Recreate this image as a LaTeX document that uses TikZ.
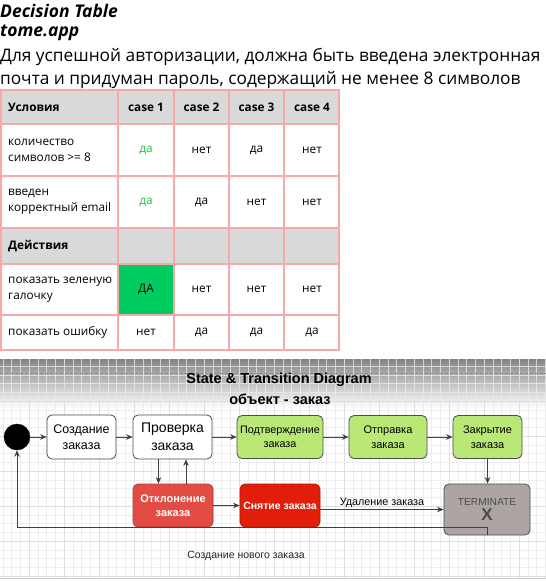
\documentclass[tikz,border=0pt]{standalone}
\usepackage{fontspec}
\setmainfont{Open Sans}
\newfontfamily\dsans{Liberation Sans}
\usetikzlibrary{arrows.meta}
\definecolor{tblline}{RGB}{248,168,168}
\definecolor{hdrgray}{RGB}{217,217,217}
\definecolor{okgreen}{RGB}{0,204,96}
\definecolor{dagreen}{RGB}{40,190,70}
\definecolor{stgreen}{RGB}{186,232,118}
\definecolor{rejred}{RGB}{226,76,68}
\definecolor{canred}{RGB}{226,30,10}
\definecolor{termgray}{RGB}{173,164,164}
\definecolor{gridminor}{RGB}{234,234,234}
\definecolor{gridmajor}{RGB}{220,220,220}
\tikzset{
  celltxt/.style={inner sep=0pt, font=\fontsize{11.8}{16}\selectfont, text=black},
  cellleft/.style={celltxt, anchor=west, align=left},
  cellbold/.style={celltxt, font=\fontsize{11.8}{16}\selectfont\bfseries},
  stbox/.style={draw=black!70, line width=0.8pt, rounded corners=5pt, align=center, inner sep=1pt, font=\dsans},
  conn/.style={draw=black!75, line width=0.9pt, -{Stealth[length=6.5pt,width=5.5pt]}},
}
\begin{document}
\begin{tikzpicture}[x=1pt,y=-1pt]
\useasboundingbox (0,0) rectangle (546,581);
\fill[white] (0,0) rectangle (546,581);

% ---------- heading ----------
\node[anchor=west, inner sep=0pt] (h1) at (0,11) {\fontsize{17.5}{18}\selectfont\bfseries\itshape Decision Table};
\node[anchor=west, inner sep=0pt] (h2) at (0,33) {\fontsize{17.5}{18}\selectfont\bfseries\itshape tome.app};
\node[anchor=west, inner sep=0pt] (h3) at (0,57) {\fontsize{17.3}{18}\selectfont Для успешной авторизации, должна быть введена электронная};
\node[anchor=west, inner sep=0pt] (h4) at (0,80) {\fontsize{17.3}{18}\selectfont почта и придуман пароль, содержащий не менее 8 символов};

% ---------- table ----------
\fill[hdrgray] (0,90) rectangle (340,124);
\fill[hdrgray] (0,228) rectangle (340,264);
\fill[okgreen] (118,264) rectangle (174,315);
\foreach \yy in {90,124,176,228,264,315,350} \draw[tblline, line width=1.6pt] (0,\yy) -- (340,\yy);
\foreach \xx in {0.8,118,174,229,284,339.2} \draw[tblline, line width=1.6pt] (\xx,90) -- (\xx,350);

\node[cellleft, font=\fontsize{11.8}{16}\selectfont\bfseries] (c00) at (8,107) {Условия};
\node[cellbold] (c01) at (146,107) {case 1};
\node[cellbold] (c02) at (201.5,107) {case 2};
\node[cellbold] (c03) at (256.5,107) {case 3};
\node[cellbold] (c04) at (312,107) {case 4};

\node[cellleft] (c10) at (8,150) {количество\\символов >= 8};
\node[celltxt, text=dagreen] (c11) at (146,150) {да};
\node[celltxt] (c12) at (201.5,150) {нет};
\node[celltxt] (c13) at (256.5,150) {да};
\node[celltxt] (c14) at (312,150) {нет};

\node[cellleft] (c20) at (8,202) {введен\\корректный email};
\node[celltxt, text=dagreen] (c21) at (146,202) {да};
\node[celltxt] (c22) at (201.5,202) {да};
\node[celltxt] (c23) at (256.5,202) {нет};
\node[celltxt] (c24) at (312,202) {нет};

\node[cellleft, font=\fontsize{11.8}{16}\selectfont\bfseries] (c30) at (8,246) {Действия};

\node[cellleft] (c40) at (8,289.5) {показать зеленую\\галочку};
\node[celltxt] (c41) at (146,289.5) {ДА};
\node[celltxt] (c42) at (201.5,289.5) {нет};
\node[celltxt] (c43) at (256.5,289.5) {нет};
\node[celltxt] (c44) at (312,289.5) {нет};

\node[cellleft] (c50) at (8,332.5) {показать ошибку};
\node[celltxt] (c51) at (146,332.5) {нет};
\node[celltxt] (c52) at (201.5,332.5) {да};
\node[celltxt] (c53) at (256.5,332.5) {да};
\node[celltxt] (c54) at (312,332.5) {да};

% ---------- diagram background ----------
\shade[top color=black!48, bottom color=white] (0,359) rectangle (546,408);
\foreach \xx in {2.75,11.5,...,546} \draw[gridminor, line width=0.5pt, opacity=0.8] (\xx,359) -- (\xx,578);
\foreach \yy in {366,374.75,...,578} \draw[gridminor, line width=0.5pt, opacity=0.8] (0,\yy) -- (546,\yy);
\foreach \xx in {29,64,...,546} \draw[gridmajor, line width=0.6pt, opacity=0.8] (\xx,359) -- (\xx,578);
\foreach \yy in {401,436,...,578} \draw[gridmajor, line width=0.6pt, opacity=0.8] (0,\yy) -- (546,\yy);
\draw[black!45, dash pattern=on 3pt off 2pt, line width=0.5pt] (0,373) -- (546,373);
\draw[black!20, line width=0.8pt] (0,578) -- (546,578);

% ---------- titles ----------
\node[inner sep=0pt, font=\dsans\bfseries\fontsize{14.5}{16}\selectfont] (title) at (279,380) {State \& Transition Diagram};
\node[inner sep=0pt, font=\dsans\bfseries\fontsize{14.5}{16}\selectfont] (subtitle) at (280,399) {объект - заказ};

% ---------- states ----------
\node[circle, fill=black, draw=black, minimum size=26pt, inner sep=0pt] (start) at (17,437) {};
\node[stbox, fill=white, minimum width=69pt, minimum height=44pt, font=\dsans\fontsize{12.5}{16}\selectfont] (create) at (81.5,437) {Создание\\заказа};
\node[stbox, fill=white, minimum width=79pt, minimum height=44pt, font=\dsans\fontsize{14}{18}\selectfont] (check) at (172.5,437) {Проверка\\заказа};
\node[stbox, fill=stgreen, minimum width=86pt, minimum height=43pt, font=\dsans\fontsize{10.8}{14}\selectfont] (confirm) at (280,437) {Подтверждение\\заказа};
\node[stbox, fill=stgreen, minimum width=78pt, minimum height=43pt, font=\dsans\fontsize{11}{14.5}\selectfont] (ship) at (388,437) {Отправка\\заказа};
\node[stbox, fill=stgreen, minimum width=69pt, minimum height=43pt, font=\dsans\fontsize{11}{14.5}\selectfont] (close) at (487.5,437) {Закрытие\\заказа};
\node[stbox, draw=rejred!80!black, fill=rejred, text=white, minimum width=80pt, minimum height=43pt, font=\dsans\bfseries\fontsize{11}{14.5}\selectfont] (reject) at (173,505.5) {Отклонение\\заказа};
\node[stbox, draw=canred!80!black, fill=canred, text=white, minimum width=80pt, minimum height=43pt, font=\dsans\bfseries\fontsize{10.5}{14}\selectfont] (cancel) at (280,505.5) {Снятие заказа};
\node[stbox, fill=termgray, minimum width=86pt, minimum height=51pt, text=black!70, font=\dsans\fontsize{10.2}{14}\selectfont] (term) at (487,509.5) {TERMINATE\\[1pt]{\fontsize{17}{18}\selectfont\bfseries X}};

% ---------- transitions ----------
\draw[conn] (start) -- (create);
\draw[conn] (create) -- (check);
\draw[conn] (check) -- (confirm);
\draw[conn] (confirm) -- (ship);
\draw[conn] (ship) -- (close);
\draw[conn] (close) -- (close |- term.north);
\draw[conn] ([xshift=-14pt]check.south) -- ([xshift=-14pt]check.south |- reject.north);
\draw[conn] ([xshift=13pt]reject.north) -- ([xshift=13pt]reject.north |- check.south);
\draw[conn] (reject) -- (cancel);
\draw[conn] (cancel.east |- term.west) -- node[above, inner sep=1.5pt, font=\dsans\fontsize{10.8}{12}\selectfont] (lbl1) {Удаление заказа} (term.west);
\coordinate (loopR) at ([yshift=8pt]term.south);
\draw[conn] (term.south) -- (loopR) -| (start.south);
\node[inner sep=0pt, font=\dsans\fontsize{10.5}{12}\selectfont, text=black!85] (lbl2) at (246,556) {Создание нового заказа};
\end{tikzpicture}
\end{document}
